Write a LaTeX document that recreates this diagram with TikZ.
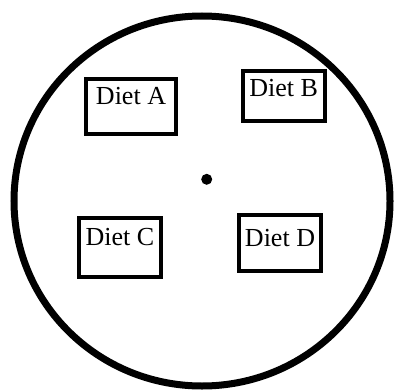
\documentclass[tikz,border=0pt]{standalone}
\usepackage{fontspec}
\setmainfont{Liberation Serif}
\usetikzlibrary{positioning}

\begin{document}
\begin{tikzpicture}[
    x=1pt, y=-1pt,
    plate/.style={line width=7pt},
    dietbox/.style={draw, line width=4pt, inner sep=0pt, anchor=base, font=\fontsize{26}{30}\selectfont},
    centredot/.style={circle, fill, inner sep=0pt, minimum size=11pt}
]
\useasboundingbox (0,0) rectangle (395,390);
\draw[plate] (202,201) ellipse [x radius=188pt, y radius=185pt];
\node[centredot] (centre) at (206.7,179.3) {};
\node[dietbox, minimum width=89.4pt, text height=26.3pt, text depth=29pt] (dietA) at (131,105) {Diet A};
\node[dietbox, minimum width=82pt, text height=25.4pt, text depth=24.6pt] (dietB) at (283.7,96.7) {Diet B};
\node[dietbox, minimum width=81.4pt, text height=27.3pt, text depth=32pt] (dietC) at (120,245) {Diet C};
\node[dietbox, minimum width=82.6pt, text height=32pt, text depth=24pt] (dietD) at (280,246.7) {Diet D};
\end{tikzpicture}
\end{document}
